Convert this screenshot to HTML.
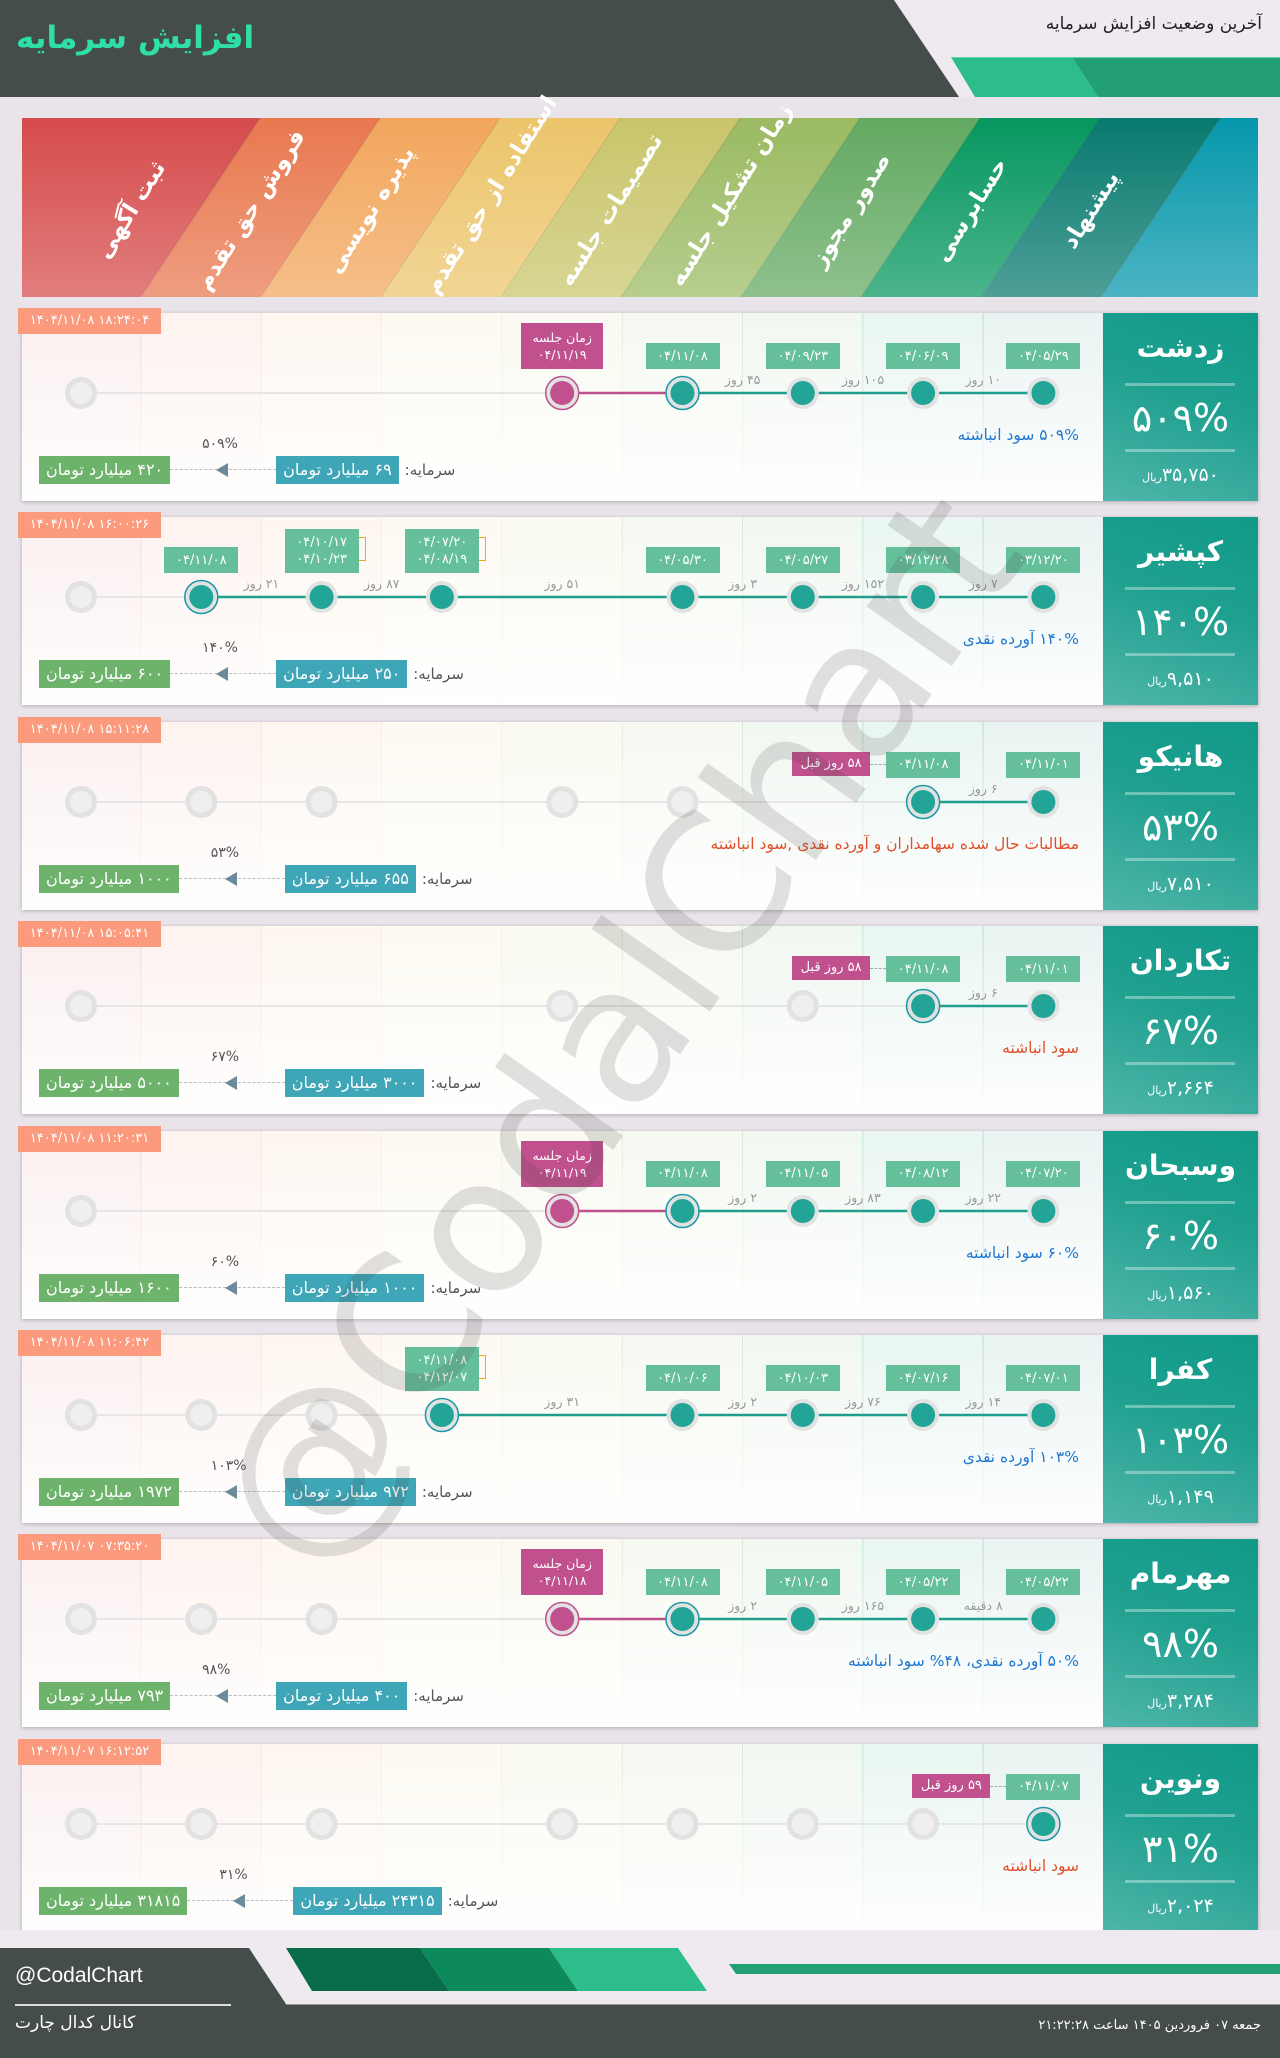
<!DOCTYPE html>
<html><head><meta charset="utf-8">
<style>
*{margin:0;padding:0;box-sizing:border-box}
body{width:1280px;height:2058px;background:#e9e4ea;position:relative;overflow:hidden;font-family:"DejaVu Sans","Liberation Sans",sans-serif}
.abs{position:absolute}
.row{position:absolute;left:22px;width:1236px;height:188px;background:#fff;box-shadow:0 1px 4px rgba(0,0,0,.25)}
.ts{position:absolute;left:-4px;top:-5px;width:143px;height:26px;background:#fb9a7c;color:#fff;font-size:13px;line-height:26px;text-align:center;direction:ltr}
.lab{position:absolute;width:74px;background:#66bf9b;color:#fff;font-size:13px;text-align:center;direction:ltr;display:flex;flex-direction:column;justify-content:center;line-height:17px}
.meet{position:absolute;width:82px;height:46px;background:#c0508e;color:#fff;font-size:12.5px;text-align:center;line-height:17px;padding-top:6px}
.ago{position:absolute;width:78px;height:24px;background:#c0508e;color:#fff;font-size:13px;text-align:center;line-height:24px;direction:rtl}
.day{position:absolute;font-size:12.5px;color:#999;direction:rtl;white-space:nowrap;transform:translateX(-50%)}
.desc{position:absolute;right:179px;top:113px;font-size:15.5px;direction:rtl;white-space:nowrap}
.cap{position:absolute;left:17px;top:143px;height:28px;display:flex;align-items:center;direction:ltr}
.bx{height:28px;line-height:28px;padding:0 7px;color:#fff;font-size:16px;direction:rtl;white-space:nowrap}
.arr{position:relative;width:106px;height:28px}
.panel{position:absolute;left:1081px;top:0;width:155px;height:188px;background:linear-gradient(20deg,#4fb5aa,#1fa08f 55%,#119a89);color:#fff;text-align:center}
.hl{position:absolute;color:#fff;font-weight:bold;font-size:23px;white-space:nowrap;direction:rtl;transform:translate(-50%,-50%) rotate(-58deg)}
.br{position:absolute;width:7px;border:1.5px solid #f2a41c;border-left:none}
</style></head><body>

<div class="abs" style="left:0;top:0;width:1280px;height:97px;background:#efeaf0"></div>
<svg class="abs" style="left:0;top:0" width="1280" height="97">
<polygon points="0,0 894,0 959,97 0,97" fill="#454d4a"/>
<polygon points="951,57 1072,57 1098,97 975,97" fill="#2dbd8a"/>
<polygon points="1072,57 1280,57 1280,97 1098,97" fill="#22a074"/>
<line x1="951" y1="57.5" x2="1280" y2="57.5" stroke="#5fd3aa" stroke-width="1"/>
</svg>
<div class="abs" style="left:16px;top:20px;color:#2ee0a7;font-size:31px;font-weight:bold;direction:rtl">افزایش سرمایه</div>
<div class="abs" style="right:18px;top:14px;color:#222;font-size:17px;direction:rtl">آخرین وضعیت افزایش سرمایه</div>

<svg class="abs" style="left:0;top:118px" width="1280" height="180" id="ban"></svg>
<div id="hlabels"></div>

<div id="rows"></div>

<div class="abs" style="left:617px;top:1030px;transform:translate(-50%,-50%) rotate(-55deg);font-size:190px;color:rgba(70,70,70,.16);white-space:nowrap;direction:ltr;pointer-events:none;z-index:5">@CodalChart</div>

<svg class="abs" style="left:0;top:1930px" width="1280" height="128">
<rect x="0" y="0" width="1280" height="74" fill="#efeaf0"/>
<polygon points="0,18 249,18 286,74 0,74" fill="#454d4a"/>
<rect x="0" y="74" width="1280" height="54" fill="#454d4a"/>
<line x1="286" y1="74.5" x2="1280" y2="74.5" stroke="#9a9a9a" stroke-width="1"/>
<polygon points="286,18 420,18 449,61 312,61" fill="#086b4a"/>
<polygon points="420,18 549,18 578,61 449,61" fill="#0d8a5c"/>
<polygon points="549,18 678,18 707,61 578,61" fill="#2dbd8a"/>
<polygon points="729,34 1280,34 1280,44 736,44" fill="#22a074"/>
</svg>
<div class="abs" style="left:15px;top:1964px;color:#fff;font-size:21px;font-family:'Liberation Sans',sans-serif">@CodalChart</div>
<div class="abs" style="left:15px;top:2004px;width:216px;height:2px;background:#ddd"></div>
<div class="abs" style="left:15px;top:2013px;color:#fff;font-size:17px;direction:rtl">کانال کدال چارت</div>
<div class="abs" style="right:19px;top:2018px;color:#fff;font-size:13px;direction:rtl">جمعه ۰۷ فروردین ۱۴۰۵ ساعت ۲۱:۲۲:۲۸</div>

<script>
const C=['#d64b4b','#e8784f','#f2a65c','#ecc56b','#c9c56b','#9bba62','#63a961','#06975f','#087a6f','#0697ab'];
const HL=['ثبت آگهی','فروش حق تقدم','پذیره نویسی','استفاده از حق تقدم','تصمیمات جلسه','زمان تشکیل جلسه','صدور مجوز','حسابرسی','پیشنهاد'];
let b='<defs><linearGradient id="wg" x1="0" y1="0" x2="0" y2="1"><stop offset="0" stop-color="#fff" stop-opacity="0"/><stop offset="1" stop-color="#fff" stop-opacity=".28"/></linearGradient></defs>';
for(let k=0;k<10;k++){
 let t0=k==0?22:260+120*(k-1), t1=Math.min(1258,260+120*k), b0=k==0?22:141+120*(k-1), b1=Math.min(1258,141+120*k);
 let pts=k==0?`22,0 260,0 141,179 22,179`:(k==9?`${t0},0 1258,0 1258,179 ${b0},179`:`${t0},0 ${t1},0 ${b1},179 ${b0},179`);
 b+=`<polygon points="${pts}" fill="${C[k]}"/>`;
 if(k>0)b+=`<line x1="${t0}" y1="0" x2="${b0}" y2="179" stroke="rgba(0,0,0,.12)" stroke-width="1"/>`;
}
b+='<rect x="22" y="0" width="1236" height="179" fill="url(#wg)"/>';
document.getElementById('ban').innerHTML=b;
let h='';
HL.forEach((t,k)=>{h+=`<div class="hl" style="left:${131+120*k}px;top:${t.length>12?195:210}px">${t}</div>`});
document.getElementById('hlabels').innerHTML=h;

const X=k=>59+120.3*k;
const R=[
{n:'زدشت',p:'۵۰۹%',pr:'۳۵,۷۵۰',ts:'۱۴۰۴/۱۱/۰۸ ۱۸:۲۴:۰۴',nodes:{0:'g',4:'p',5:'r',6:'f',7:'f',8:'f'},
 lab:{8:['۰۴/۰۵/۲۹'],7:['۰۴/۰۶/۰۹'],6:['۰۴/۰۹/۲۳'],5:['۰۴/۱۱/۰۸']},meet:[4,'۰۴/۱۱/۱۹'],
 days:[[7,8,'۱۰ روز'],[6,7,'۱۰۵ روز'],[5,6,'۴۵ روز']],tl:[5,8],pl:[4,5],g:4,desc:'۵۰۹% سود انباشته',dc:'#1f78d1',c1:'۶۹',c2:'۴۲۰',cp:'۵۰۹%'},
{n:'کپشیر',p:'۱۴۰%',pr:'۹,۵۱۰',ts:'۱۴۰۴/۱۱/۰۸ ۱۶:۰۰:۲۶',nodes:{0:'g',1:'r',2:'f',3:'f',5:'f',6:'f',7:'f',8:'f'},
 lab:{8:['۰۳/۱۲/۲۰'],7:['۰۳/۱۲/۲۸'],6:['۰۴/۰۵/۲۷'],5:['۰۴/۰۵/۳۰'],3:['۰۴/۰۷/۲۰','۰۴/۰۸/۱۹'],2:['۰۴/۱۰/۱۷','۰۴/۱۰/۲۳'],1:['۰۴/۱۱/۰۸']},
 days:[[7,8,'۷ روز'],[6,7,'۱۵۲ روز'],[5,6,'۳ روز'],[3,5,'۵۱ روز'],[2,3,'۸۷ روز'],[1,2,'۲۱ روز']],tl:[1,8],g:1,desc:'۱۴۰% آورده نقدی',dc:'#1f78d1',c1:'۲۵۰',c2:'۶۰۰',cp:'۱۴۰%'},
{n:'هانیکو',p:'۵۳%',pr:'۷,۵۱۰',ts:'۱۴۰۴/۱۱/۰۸ ۱۵:۱۱:۲۸',nodes:{0:'g',1:'g',2:'g',4:'g',5:'g',7:'r',8:'f'},
 lab:{8:['۰۴/۱۱/۰۱'],7:['۰۴/۱۱/۰۸']},ago:[7,'۵۸ روز قبل'],days:[[7,8,'۶ روز']],tl:[7,8],g:7,
 desc:'مطالبات حال شده سهامداران و آورده نقدی ,سود انباشته',dc:'#e0502a',c1:'۶۵۵',c2:'۱۰۰۰',cp:'۵۳%'},
{n:'تکاردان',p:'۶۷%',pr:'۲,۶۶۴',ts:'۱۴۰۴/۱۱/۰۸ ۱۵:۰۵:۴۱',nodes:{0:'g',4:'g',6:'g',7:'r',8:'f'},
 lab:{8:['۰۴/۱۱/۰۱'],7:['۰۴/۱۱/۰۸']},ago:[7,'۵۸ روز قبل'],days:[[7,8,'۶ روز']],tl:[7,8],g:7,
 desc:'سود انباشته',dc:'#e0502a',c1:'۳۰۰۰',c2:'۵۰۰۰',cp:'۶۷%'},
{n:'وسبحان',p:'۶۰%',pr:'۱,۵۶۰',ts:'۱۴۰۴/۱۱/۰۸ ۱۱:۲۰:۳۱',nodes:{0:'g',4:'p',5:'r',6:'f',7:'f',8:'f'},
 lab:{8:['۰۴/۰۷/۲۰'],7:['۰۴/۰۸/۱۲'],6:['۰۴/۱۱/۰۵'],5:['۰۴/۱۱/۰۸']},meet:[4,'۰۴/۱۱/۱۹'],
 days:[[7,8,'۲۲ روز'],[6,7,'۸۳ روز'],[5,6,'۲ روز']],tl:[5,8],pl:[4,5],g:4,desc:'۶۰% سود انباشته',dc:'#1f78d1',c1:'۱۰۰۰',c2:'۱۶۰۰',cp:'۶۰%'},
{n:'کفرا',p:'۱۰۳%',pr:'۱,۱۴۹',ts:'۱۴۰۴/۱۱/۰۸ ۱۱:۰۶:۴۲',nodes:{0:'g',1:'g',2:'g',3:'r',5:'f',6:'f',7:'f',8:'f'},
 lab:{8:['۰۴/۰۷/۰۱'],7:['۰۴/۰۷/۱۶'],6:['۰۴/۱۰/۰۳'],5:['۰۴/۱۰/۰۶'],3:['۰۴/۱۱/۰۸','۰۴/۱۲/۰۷']},
 days:[[7,8,'۱۴ روز'],[6,7,'۷۶ روز'],[5,6,'۲ روز'],[3,5,'۳۱ روز']],tl:[3,8],g:3,desc:'۱۰۳% آورده نقدی',dc:'#1f78d1',c1:'۹۷۲',c2:'۱۹۷۲',cp:'۱۰۳%'},
{n:'مهرمام',p:'۹۸%',pr:'۳,۲۸۴',ts:'۱۴۰۴/۱۱/۰۷ ۰۷:۳۵:۲۰',nodes:{0:'g',1:'g',2:'g',4:'p',5:'r',6:'f',7:'f',8:'f'},
 lab:{8:['۰۴/۰۵/۲۲'],7:['۰۴/۰۵/۲۲'],6:['۰۴/۱۱/۰۵'],5:['۰۴/۱۱/۰۸']},meet:[4,'۰۴/۱۱/۱۸'],
 days:[[7,8,'۸ دقیقه'],[6,7,'۱۶۵ روز'],[5,6,'۲ روز']],tl:[5,8],pl:[4,5],g:4,desc:'۵۰% آورده نقدی، ۴۸% سود انباشته',dc:'#1f78d1',c1:'۴۰۰',c2:'۷۹۳',cp:'۹۸%'},
{n:'ونوین',p:'۳۱%',pr:'۲,۰۲۴',ts:'۱۴۰۴/۱۱/۰۷ ۱۶:۱۲:۵۲',nodes:{0:'g',1:'g',2:'g',4:'g',5:'g',6:'g',7:'g',8:'r'},
 lab:{8:['۰۴/۱۱/۰۷']},ago:[8,'۵۹ روز قبل'],days:[],g:8,desc:'سود انباشته',dc:'#e0502a',c1:'۲۴۳۱۵',c2:'۳۱۸۱۵',cp:'۳۱%'}
];
let out='';
R.forEach((r,i)=>{
 const T=313+i*204.4, ly=80;
 let s=`<svg class="abs" style="left:0;top:0" width="1236" height="188"><defs><linearGradient id="rg${i}" x1="0" y1="0" x2="0" y2="1"><stop offset="0" stop-color="#fff" stop-opacity="0"/><stop offset="1" stop-color="#fff" stop-opacity=".95"/></linearGradient></defs>`;
 for(let k=0;k<10;k++){let x0=k==0?0:119+120.3*(k-1),x1=Math.min(1236,119+120.3*k);
  s+=`<rect x="${x0}" y="0" width="${x1-x0}" height="188" fill="${C[k]}" opacity=".09"/>`;
  if(k>0)s+=`<line x1="${x0}" y1="0" x2="${x0}" y2="188" stroke="${C[k]}" stroke-opacity=".2"/>`;}
 s+=`<rect width="1236" height="188" fill="url(#rg${i})"/>`;
 s+=`<line x1="${X(0)}" y1="${ly}" x2="${X(r.g)}" y2="${ly}" stroke="#e6e6e6" stroke-width="2"/>`;
 if(r.tl)s+=`<line x1="${X(r.tl[0])}" y1="${ly}" x2="${X(r.tl[1])}" y2="${ly}" stroke="#1f9e8e" stroke-width="2.5"/>`;
 if(r.pl)s+=`<line x1="${X(r.pl[0])}" y1="${ly}" x2="${X(r.pl[1])}" y2="${ly}" stroke="#c0508e" stroke-width="2.5"/>`;
 for(const k in r.nodes){const t=r.nodes[k],x=X(+k);
  if(t=='g')s+=`<circle cx="${x}" cy="${ly}" r="16" fill="#e2e2e2"/><circle cx="${x}" cy="${ly}" r="11" fill="#efefef"/>`;
  if(t=='f')s+=`<circle cx="${x}" cy="${ly}" r="16" fill="#e2e2e2"/><circle cx="${x}" cy="${ly}" r="12" fill="#22a596"/>`;
  if(t=='r')s+=`<circle cx="${x}" cy="${ly}" r="16.5" fill="#e2e2e2" stroke="#1b97a5" stroke-width="1.5"/><circle cx="${x}" cy="${ly}" r="12" fill="#22a596"/>`;
  if(t=='p')s+=`<circle cx="${x}" cy="${ly}" r="16.5" fill="#e2e2e2" stroke="#c0508e" stroke-width="1.5"/><circle cx="${x}" cy="${ly}" r="12" fill="#c0508e"/>`;
 }
 s+='</svg>';
 let e='';
 for(const k in r.lab){const L=r.lab[k],x=X(+k),hh=L.length==2?44:26;
  e+=`<div class="lab" style="left:${x-37}px;top:${56-hh}px;height:${hh}px">${L.map(v=>'<div>'+v+'</div>').join('')}</div>`;
  if(L.length==2)e+=`<div class="br" style="left:${x+37}px;top:${56-hh+8}px;height:${hh-20}px"></div>`;}
 if(r.meet){const x=X(r.meet[0]);e+=`<div class="meet" style="left:${x-41}px;top:10px"><div style="direction:rtl">زمان جلسه</div><div style="direction:ltr">${r.meet[1]}</div></div>`;}
 if(r.ago){const x=X(r.ago[0]);e+=`<div class="ago" style="left:${x-37-16-78}px;top:30px">${r.ago[1]}</div><div class="abs" style="left:${x-53}px;top:42px;width:16px;border-top:1px dashed #aaa"></div>`;}
 r.days.forEach(d=>{e+=`<div class="day" style="left:${(X(d[0])+X(d[1]))/2}px;top:${ly-21}px">${d[2]}</div>`});
 e+=`<div class="desc" style="color:${r.dc}">${r.desc}</div>`;
 e+=`<div class="cap"><div class="bx" style="background:#6db36b">${r.c2} میلیارد تومان</div>
  <div class="arr"><div class="abs" style="left:0;right:0;top:13px;border-top:1.5px dashed #b8bcc4"></div>
  <div class="abs" style="left:46px;top:7px;width:0;height:0;border-top:7px solid transparent;border-bottom:7px solid transparent;border-right:12px solid #6b8a9c"></div>
  <div class="abs" style="left:32px;top:-20px;font-size:14px;color:#555;direction:rtl">${r.cp}</div></div>
  <div class="bx" style="background:#3fa6b8">${r.c1} میلیارد تومان</div>
  <div style="font-size:15px;color:#555;direction:rtl;margin-left:6px">سرمایه:</div></div>`;
 e+=`<div class="panel"><div style="position:absolute;left:0;right:0;top:18px;font-size:28px;font-weight:bold;direction:rtl">${r.n}</div>
  <div style="position:absolute;left:22px;width:110px;top:70px;height:3px;background:rgba(255,255,255,.35)"></div>
  <div style="position:absolute;left:0;right:0;top:83px;font-size:38px;direction:ltr">${r.p}</div>
  <div style="position:absolute;left:22px;width:110px;top:136px;height:3px;background:rgba(255,255,255,.35)"></div>
  <div style="position:absolute;left:0;right:0;top:151px;font-size:19px;direction:rtl">${r.pr}<span style="font-size:11px">ریال</span></div></div>`;
 out+=`<div class="row" style="top:${T}px">${s}${e}<div class="ts">${r.ts}</div></div>`;
});
document.getElementById('rows').innerHTML=out;
</script>
</body></html>
